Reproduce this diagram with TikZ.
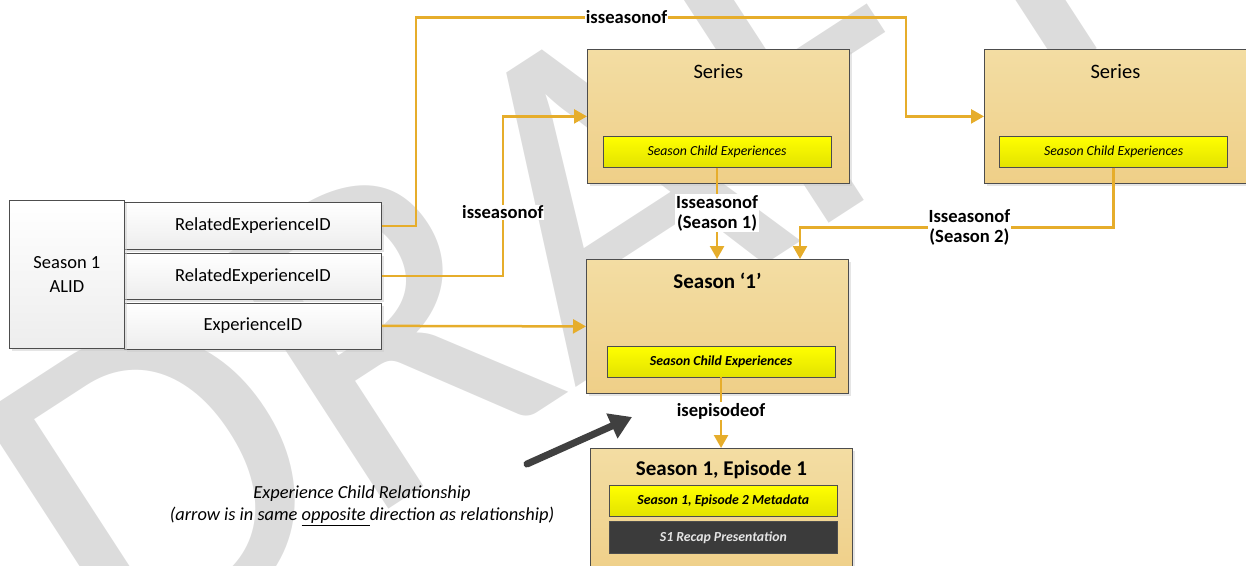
\documentclass[tikz,border=0pt]{standalone}
\usepackage{fontspec}
\setmainfont{Carlito}
\usetikzlibrary{arrows.meta,shadows,positioning}
\definecolor{relorange}{HTML}{E6AD2B}
\definecolor{tantop}{HTML}{F3DDA3}
\definecolor{tanbot}{HTML}{EFCF88}
\definecolor{kidtop}{HTML}{FFFF00}
\definecolor{kidbot}{HTML}{E3E300}
\definecolor{edgegray}{HTML}{4D4D4D}
\definecolor{recapgray}{HTML}{3B3B3B}
\definecolor{draftgray}{HTML}{DCDCDC}
\newcommand{\fsz}[2]{\fontsize{#1}{#2}\selectfont}

\begin{document}
\begin{tikzpicture}[x=1pt, y=-1pt,
    >={Triangle[length=13pt, width=14pt]},
    shade/.style = {drop shadow={shadow xshift=3pt, shadow yshift=-3pt, fill=black!20}},
    idbox/.style = {draw=edgegray, line width=0.8pt, top color=white, bottom color=black!7, shade,
                    anchor=north west, inner sep=0pt, align=center, font=\fsz{18.5}{23.5}},
    card/.style = {draw=edgegray, line width=0.8pt, top color=tantop, bottom color=tanbot, shade,
                   anchor=north west, inner sep=0pt, minimum width=262, minimum height=134},
    kid/.style = {draw=edgegray, line width=0.7pt, top color=kidtop, bottom color=kidbot,
                  anchor=north west, inner sep=0pt, minimum width=228, minimum height=31,
                  font=\itshape\fsz{13.8}{16}},
    ttl/.style = {font=\fsz{20.5}{24}},
    lbl/.style = {fill=white, inner sep=1pt, align=center, font=\bfseries\fsz{18.6}{20}},
    rel/.style = {draw=relorange, line width=2.5pt}]
  \useasboundingbox (0,0) rectangle (1246,565);

  % watermark
  \node[text=draftgray, rotate=33, font=\fsz{470}{470}\selectfont] (draft) at (565,215) {DRAFT};

  % ALID and its identifiers
  \node[idbox, minimum width=257, minimum height=47] (rel1) at (124,202) {RelatedExperienceID};
  \node[idbox, minimum width=257, minimum height=45.5] (rel2) at (124,253) {RelatedExperienceID};
  \node[idbox, minimum width=257, minimum height=46] (exp) at (124,302.5) {ExperienceID};
  \node[idbox, minimum width=115, minimum height=148] (alid) at (9,200) {Season 1\\ALID};

  % series
  \node[card] (series1) at (587,49) {};
  \node[ttl] at ([yshift=-23pt]series1.north) {Series};
  \node[kid] (s1kid) at (602.7,136) {Season Child Experiences};
  \node[card] (series2) at (984,49) {};
  \node[ttl] at ([yshift=-23pt]series2.north) {Series};
  \node[kid] (s2kid) at (999.3,136) {Season Child Experiences};

  % season
  \node[card] (season) at (586,259) {};
  \node[ttl, font=\bfseries\fsz{21}{24}] at ([yshift=-22pt]season.north) {Season ‘1’};
  \node[kid, font=\bfseries\itshape\fsz{13.8}{16}] (seasonkid) at (606.7,345.7) {Season Child Experiences};

  % episode
  \node[card, minimum height=130] (episode) at (590,448) {};
  \node[ttl, font=\bfseries\fsz{21}{24}] at ([yshift=-22pt]episode.north) {Season 1, Episode 1};
  \node[kid, minimum width=227.4, font=\bfseries\itshape\fsz{13.8}{16}] (epkid) at (609.3,485) {Season 1, Episode 2 Metadata};
  \node[kid, minimum width=227.4, minimum height=32, top color=recapgray, bottom color=recapgray,
        text=black!10, font=\bfseries\itshape\fsz{13.8}{16}] (recap) at (609.3,521) {S1 Recap Presentation};

  % relationships
  \coordinate (s2in) at (800,259);
  \draw[rel, ->] (rel1.east) -- ++(34,0) -- ++(0,-208.5)
      -- node[lbl, pos=0.43] {isseasonof} ++(490,0) |- (series2.west);
  \draw[rel, ->] (rel2.east) -- ++(121,0) |- node[lbl, pos=0.2] {isseasonof} (series1.west);
  \draw[rel, ->] (exp.east) -- (season.west);
  \draw[rel, ->] (s1kid.south) -- node[lbl] {Isseasonof\\(Season 1)} (s1kid.south |- season.north);
  \draw[rel, ->] (s2kid.south) -- ++(0,60) -| node[lbl, pos=0.23] {Isseasonof\\(Season 2)} (s2in);
  \draw[rel, ->] (seasonkid.south) -- node[lbl, pos=0.48] {isepisodeof} (seasonkid.south |- episode.north);

  % hint
  \coordinate (hinttail) at (527,464);
  \coordinate (hinttip) at (632,417);
  \draw[draw=black!75, line width=7pt, line cap=round, -{Triangle[length=22pt, width=26pt]}] (hinttail) -- (hinttip);
  \node[align=center, font=\itshape\fsz{18.4}{22}] (hint) at (362,506)
      {Experience Child Relationship\\(arrow is in same \underline{opposite }direction as relationship)};
\end{tikzpicture}
\end{document}
